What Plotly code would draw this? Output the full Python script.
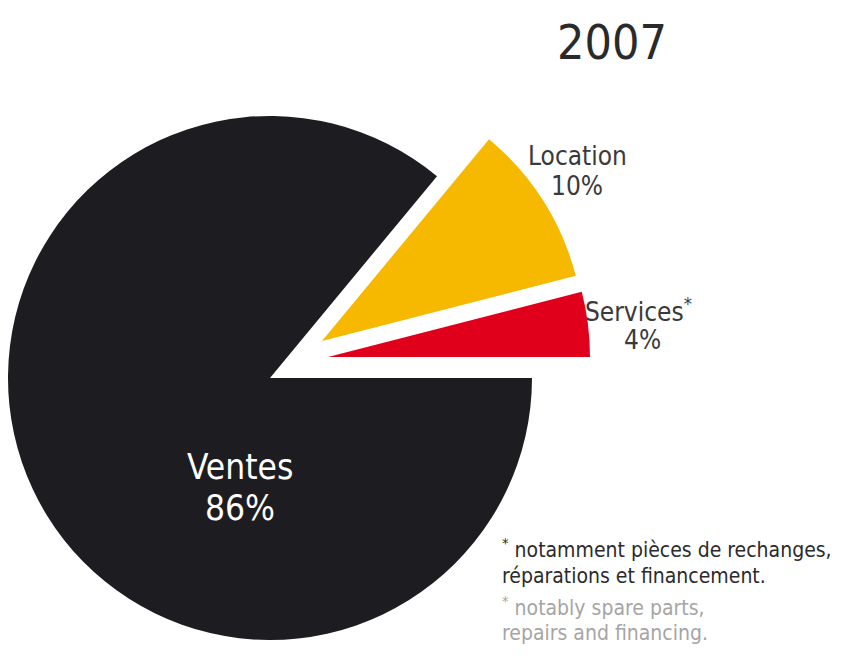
import plotly.graph_objects as go

# chart data
labels = ["Location", "Services*", "Ventes"]
values = [10, 4, 86]
pct_text = ["10%", "4%", "86%"]
colors = ["#f7b800", "#e1001b", "#1d1c21"]
year = "2007"
note_fr = ["* notamment pièces de rechanges,", "réparations et financement."]
note_en = ["* notably spare parts,", "repairs and financing."]

W, H = 843, 659
FONT = "DejaVu Sans Condensed, Liberation Sans Narrow, sans-serif"
# the page body adds a small margin, so positions are given in window pixels
OX, OY = 8, 8

# pie geometry (window pixels)
cx, cy, r = 270, 378, 262
# exploded slices are drawn as separate pies with a shifted centre
shift = {0: (52, -37), 1: (58, -21), 2: (0, 0)}

# first slice starts so that Ventes begins at 3 o'clock
rotation = 90 - 360 * (values[0] + values[1]) / sum(values)


def dom(x, y):
    x, y = x - OX, y - OY
    return dict(x=[max(0, (x - r) / W), (x + r) / W],
                y=[1 - (y + r) / H, 1 - (y - r) / H])


fig = go.Figure()
for i in [2, 0, 1]:
    dx, dy = shift[i]
    cols = ["rgba(0,0,0,0)"] * len(values)
    cols[i] = colors[i]
    fig.add_trace(go.Pie(
        labels=labels, values=values, sort=False, direction="clockwise",
        rotation=rotation, marker=dict(colors=cols, line=dict(width=0)),
        textinfo="none", hoverinfo="label+percent", showlegend=False,
        domain=dom(cx + dx, cy + dy),
    ))

ann = []


def add(text, x, y, size, color, anchor="center"):
    ann.append(dict(text=text, x=(x - OX) / W, y=1 - (y - OY) / H,
                    xref="paper", yref="paper",
                    xanchor=anchor, yanchor="middle", showarrow=False,
                    font=dict(family=FONT, size=size, color=color)))


def sup_star(s):
    return s.replace("*", "<sup>*</sup>")


add(year, 612, 42, 48, "#2a2a2a")
add(labels[0], 577, 156, 26, "#3a3a3a")
add(pct_text[0], 577, 186, 26, "#3a3a3a")
add(sup_star(labels[1]), 638, 310, 26, "#3a3a3a")
add(pct_text[1], 642, 340, 26, "#3a3a3a")
add(labels[2], 240, 467, 35, "white")
add(pct_text[2], 240, 508, 35, "white")
add(sup_star(note_fr[0]), 500, 548, 21, "#2b2b2b", "left")
add(note_fr[1], 500, 576, 21, "#2b2b2b", "left")
add(sup_star(note_en[0]), 500, 606, 21, "#a5a5a5", "left")
add(note_en[1], 500, 633, 21, "#a5a5a5", "left")

fig.update_layout(
    width=W, height=H, margin=dict(l=0, r=0, t=0, b=0),
    paper_bgcolor="white", plot_bgcolor="white",
    annotations=ann,
)

fig.write_html("out.html")
